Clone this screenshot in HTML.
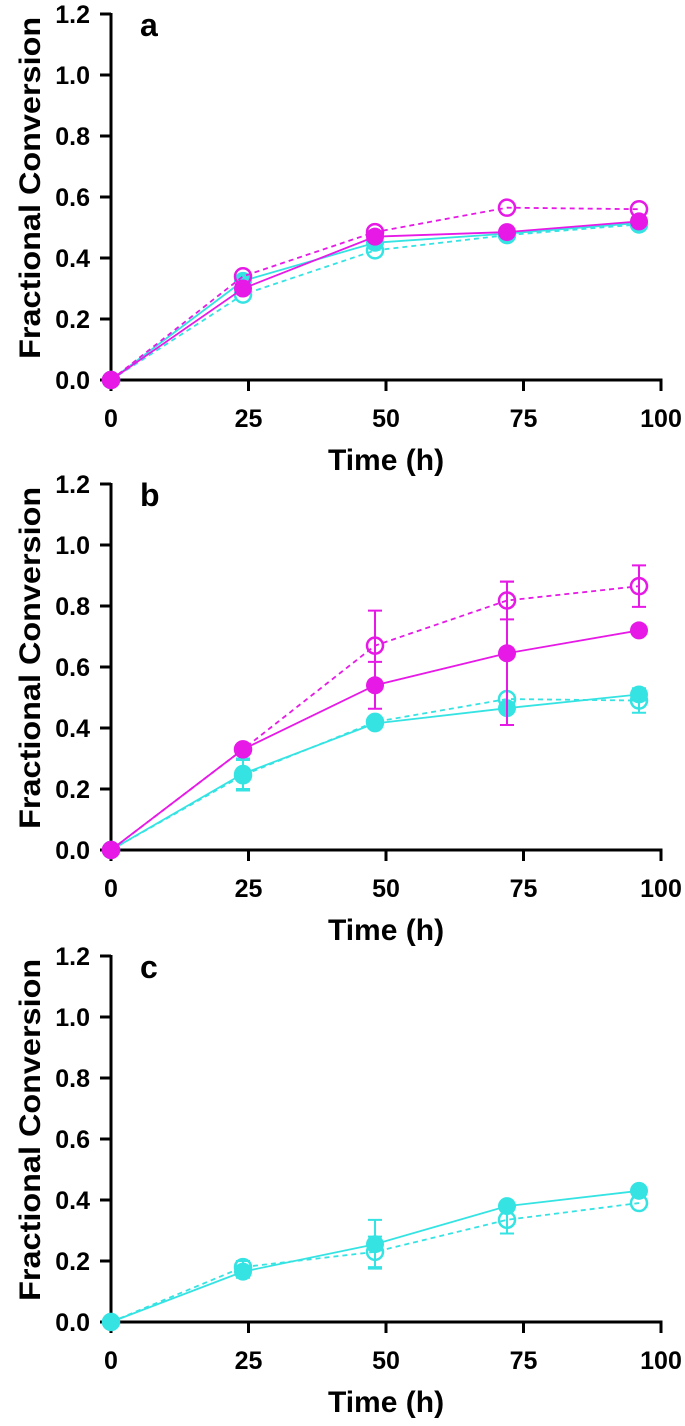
<!DOCTYPE html>
<html><head><meta charset="utf-8"><style>
html,body{margin:0;padding:0;background:#fff;}
svg{display:block;font-family:"Liberation Sans",Arial,sans-serif;}
</style></head><body>
<svg id="chart" width="685" height="1426" viewBox="0 0 685 1426"></svg>
<script>
const xTicks = [0, 25, 50, 75, 100];
const yTicks = [0.0, 0.2, 0.4, 0.6, 0.8, 1.0, 1.2];
const times = [0, 24, 48, 72, 96];
const panelLetters = ['a', 'b', 'c'];
// panel a
const aMagFilled = [0, 0.30, 0.47, 0.485, 0.52];
const aMagOpen = [0, 0.34, 0.485, 0.565, 0.56];
const aCyaFilled = [0, 0.325, 0.45, 0.48, 0.515];
const aCyaOpen = [0, 0.28, 0.425, 0.475, 0.51];
// panel b
const bMagFilled = [0, 0.33, 0.54, 0.645, 0.72];
const bMagFilledErr = [0, 0, 0.077, 0.235, 0];
const bMagOpen = [0, 0.33, 0.67, 0.818, 0.865];
const bMagOpenErr = [0, 0, 0.115, 0.062, 0.068];
const bCyaFilled = [0, 0.25, 0.415, 0.465, 0.51];
const bCyaFilledErr = [0, 0.05, 0, 0, 0.02];
const bCyaOpen = [0, 0.245, 0.42, 0.495, 0.49];
const bCyaOpenErr = [0, 0.05, 0, 0, 0.04];
// panel c
const cCyaFilled = [0, 0.165, 0.255, 0.38, 0.43];
const cCyaFilledErr = [0, 0.02, 0.08, 0, 0];
const cCyaOpen = [0, 0.18, 0.23, 0.335, 0.39];
const cCyaOpenErr = [0, 0.02, 0.05, 0.045, 0];

const MAG = '#e619e6', CYA = '#35e3e3';
const NS = 'http://www.w3.org/2000/svg';
const svg = document.getElementById('chart');
function mk(tag, attrs, parent) {
  const e = document.createElementNS(NS, tag);
  for (const k in attrs) e.setAttribute(k, attrs[k]);
  (parent || svg).appendChild(e);
  return e;
}
const X0 = 111, X1 = 661;
function xs(t) { return X0 + (t / 100) * (X1 - X0); }

const panels = [
  {y0: 380, series: [
    {v: aCyaOpen, c: CYA, open: true, n: 'a-cyan-open'},
    {v: aCyaFilled, c: CYA, open: false, n: 'a-cyan-filled'},
    {v: aMagOpen, c: MAG, open: true, n: 'a-magenta-open'},
    {v: aMagFilled, c: MAG, open: false, n: 'a-magenta-filled'}]},
  {y0: 850, series: [
    {v: bCyaOpen, e: bCyaOpenErr, c: CYA, open: true, n: 'b-cyan-open'},
    {v: bCyaFilled, e: bCyaFilledErr, c: CYA, open: false, n: 'b-cyan-filled'},
    {v: bMagOpen, e: bMagOpenErr, c: MAG, open: true, n: 'b-magenta-open'},
    {v: bMagFilled, e: bMagFilledErr, c: MAG, open: false, n: 'b-magenta-filled'}]},
  {y0: 1322, series: [
    {v: cCyaOpen, e: cCyaOpenErr, c: CYA, open: true, n: 'c-cyan-open'},
    {v: cCyaFilled, e: cCyaFilledErr, c: CYA, open: false, n: 'c-cyan-filled'}]}
];

panels.forEach((p, pi) => {
  const g = mk('g', {});
  
  
  const ys = v => p.y0 - v * 305;
  const ya = mk('line', {x1: X0, y1: ys(1.2) - 1, x2: X0, y2: p.y0 + 1, stroke: '#000', 'stroke-width': 3}, g);
  
  
  const xa = mk('line', {x1: X0 - 1, y1: p.y0, x2: X1 + 1.5, y2: p.y0, stroke: '#000', 'stroke-width': 3}, g);
  
  
  yTicks.forEach(t => {
    mk('line', {x1: X0 - 11, y1: ys(t), x2: X0, y2: ys(t), stroke: '#000', 'stroke-width': 3}, g);
    const tx = mk('text', {x: X0 - 21, y: ys(t) + 9, 'text-anchor': 'end', 'font-size': 25, 'font-weight': 'bold'}, g);
    tx.textContent = t.toFixed(1);
    
    
  });
  xTicks.forEach(t => {
    mk('line', {x1: xs(t), y1: p.y0, x2: xs(t), y2: p.y0 + 11, stroke: '#000', 'stroke-width': 3}, g);
    const tx = mk('text', {x: xs(t), y: p.y0 + 47, 'text-anchor': 'middle', 'font-size': 25, 'font-weight': 'bold'}, g);
    tx.textContent = t;
    
    
  });
  const xt = mk('text', {x: 386, y: p.y0 + 90, 'text-anchor': 'middle', 'font-size': 30, 'font-weight': 'bold'}, g);
  xt.textContent = 'Time (h)';
  
  
  const ycy = ys(0.63);
  const yt = mk('text', {x: 0, y: 0, transform: 'translate(40,' + ycy + ') rotate(-90)', 'text-anchor': 'middle', 'font-size': 30, 'font-weight': 'bold', textLength: 342, lengthAdjust: 'spacingAndGlyphs'}, g);
  yt.textContent = 'Fractional Conversion';
  
  
  const lt = mk('text', {x: 140, y: ys(1.2) + 22, 'font-size': 32, 'font-weight': 'bold'}, g);
  lt.textContent = panelLetters[pi];
  
  

  p.series.forEach(s => {
    const sg = mk('g', {}, g);
    
    
    const pts = times.map((t, i) => xs(t) + ',' + ys(s.v[i])).join(' ');
    const pl = mk('polyline', {points: pts, fill: 'none', stroke: s.c, 'stroke-width': 1.8, 'stroke-dasharray': s.open ? '5,4' : 'none'}, sg);
    
    
    if (s.e) times.forEach((t, i) => {
      if (!s.e[i]) return;
      const x = xs(t), lo = ys(s.v[i] - s.e[i]), hi = ys(s.v[i] + s.e[i]);
      const eb = mk('path', {d: `M${x},${lo}L${x},${hi}M${x-7},${lo}L${x+7},${lo}M${x-7},${hi}L${x+7},${hi}`, stroke: s.c, 'stroke-width': 2, fill: 'none'}, sg);
      
      
    });
    times.forEach((t, i) => {
      const c = s.open
        ? mk('circle', {cx: xs(t), cy: ys(s.v[i]), r: 8, fill: 'none', stroke: s.c, 'stroke-width': 2.5}, sg)
        : mk('circle', {cx: xs(t), cy: ys(s.v[i]), r: 9, fill: s.c}, sg);
      
      
    });
  });
});
</script>
</body></html>
